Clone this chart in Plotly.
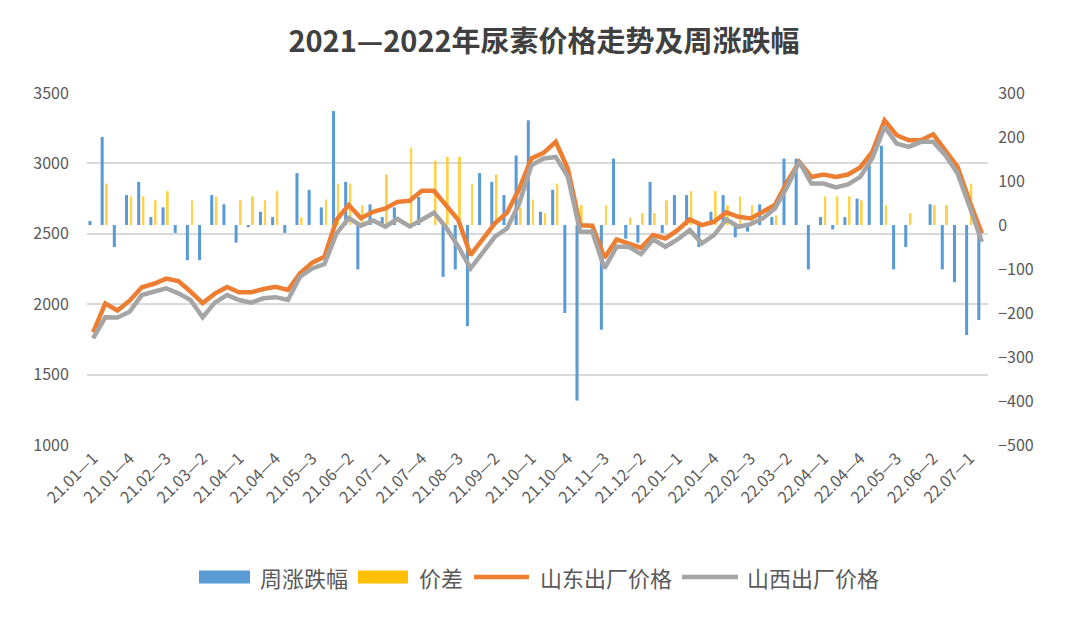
import plotly.graph_objects as go

# weekly categories 21.01-1 ... 22.07-2 (4 weeks per month)
weeks = []
for yy, months in ((21, range(1, 13)), (22, range(1, 8))):
    for m in months:
        for w in range(1, 5):
            weeks.append(f"{yy}.{m:02d}—{w}")
weeks = weeks[:74]
tick_labels = weeks[::3]

shandong = [1800, 2005, 1955, 2025, 2120, 2145, 2182, 2165, 2090, 2008,
            2075, 2122, 2085, 2085, 2108, 2124, 2101, 2220, 2295, 2337,
            2600, 2704, 2610, 2656, 2680, 2727, 2735, 2805, 2805, 2697,
            2597, 2349, 2467, 2574, 2650, 2820, 3035, 3075, 3153, 2960,
            2560, 2557, 2330, 2460, 2431, 2400, 2491, 2467, 2526, 2602,
            2562, 2586, 2652, 2621, 2609, 2656, 2704, 2869, 3011, 2904,
            2921, 2904, 2921, 2971, 3082, 3306, 3200, 3164, 3164, 3207,
            3093, 2975, 2727, 2503]

shanxi = [1758, 1907, 1905, 1947, 2065, 2089, 2113, 2077, 2030, 1907,
          2011, 2065, 2030, 2011, 2042, 2050, 2030, 2195, 2254, 2285,
          2503, 2612, 2558, 2595, 2550, 2605, 2552, 2600, 2650, 2545,
          2408, 2254, 2361, 2479, 2538, 2715, 2987, 3035, 3046, 2904,
          2515, 2515, 2255, 2408, 2408, 2356, 2460, 2408, 2460, 2526,
          2432, 2491, 2602, 2550, 2569, 2609, 2680, 2833, 3011, 2857,
          2857, 2829, 2850, 2904, 3036, 3259, 3141, 3117, 3153, 3153,
          3058, 2928, 2691, 2443]

weekly_change = [9, 200, -50, 68, 98, 18, 40, -18, -80, -80,
                 68, 47, -40, -5, 30, 18, -18, 118, 80, 40,
                 259, 98, -101, 47, 18, 40, 0, 64, 0, -118,
                 -101, -230, 118, 98, 68, 158, 238, 30, 80, -200,
                 -399, 0, -238, 151, -31, -40, 98, -18, 68, 68,
                 -50, 30, 68, -28, -15, 47, 18, 151, 151, -101,
                 18, -10, 18, 60, 138, 180, -101, -50, 0, 47,
                 -101, -130, -250, -216]

price_gap = [0, 94, 0, 65, 65, 56, 77, 0, 56, 0,
             65, 0, 56, 65, 56, 77, 0, 17, 0, 58,
             94, 94, 45, 0, 115, 0, 176, 0, 146, 155,
             155, 94, 0, 115, 0, 40, 58, 27, 94, 0,
             45, 0, 45, 0, 17, 27, 27, 56, 0, 77,
             0, 77, 45, 65, 45, 0, 22, 0, 0, 0,
             65, 65, 65, 56, 0, 45, 0, 27, 0, 45,
             45, 0, 94, 0]

series_names = ["周涨跌幅", "价差", "山东出厂价格", "山西出厂价格"]
series_colors = ["#5B9BD5", "#FFC000", "#ED7D31", "#A5A5A5"]

FONT = "Noto Sans CJK SC"
TXT = "#595959"
W, H = 1072, 611  # page adds an 8px body margin
ML, MR, MT, MB = 79, 92, 85, 174
PW, PH = W - ML - MR, H - MT - MB

fig = go.Figure()
fig.add_trace(go.Bar(x=weeks, y=weekly_change, name=series_names[0],
                     marker=dict(color=series_colors[0], line=dict(width=0)),
                     width=0.25, offset=-0.38, yaxis="y"))
fig.add_trace(go.Bar(x=weeks, y=price_gap, name=series_names[1],
                     marker=dict(color=series_colors[1], line=dict(width=0)),
                     opacity=0.7, width=0.16, offset=0.05, yaxis="y"))
fig.add_trace(go.Scatter(x=weeks, y=shandong, name=series_names[2], mode="lines",
                         line=dict(color=series_colors[2], width=4.5), yaxis="y2"))
fig.add_trace(go.Scatter(x=weeks, y=shanxi, name=series_names[3], mode="lines",
                         line=dict(color=series_colors[3], width=4.5), yaxis="y2"))


def px_x(x):  # page pixel -> paper x
    return (x - 8 - ML) / PW


def px_y(y):  # page pixel -> paper y
    return (H - MB - (y - 8)) / PH


# custom legend (wide swatches like the original)
legend_cy = 577
swatch = [(199, 250), (358, 408), (474, 529), (682, 738)]
text_x = [258, 417, 538, 745]
shapes = []
annotations = []
for i, (name, col) in enumerate(zip(series_names, series_colors)):
    x0, x1 = swatch[i]
    if i < 2:
        shapes.append(dict(type="rect", xref="paper", yref="paper",
                           x0=px_x(x0), x1=px_x(x1),
                           y0=px_y(legend_cy + 6.5), y1=px_y(legend_cy - 6.5),
                           fillcolor=col, line=dict(width=0)))
    else:
        shapes.append(dict(type="line", xref="paper", yref="paper",
                           x0=px_x(x0), x1=px_x(x1),
                           y0=px_y(legend_cy), y1=px_y(legend_cy),
                           line=dict(color=col, width=4.5)))
    annotations.append(dict(text=name, xref="paper", yref="paper",
                            x=px_x(text_x[i]), y=px_y(legend_cy),
                            xanchor="left", yanchor="middle", showarrow=False,
                            font=dict(family=FONT, size=22, color=TXT)))

fig.update_layout(
    width=W, height=H,
    margin=dict(l=ML, r=MR, t=MT, b=MB),
    paper_bgcolor="white", plot_bgcolor="white",
    font=dict(family=FONT, color=TXT, size=15),
    title=dict(text="2021—2022年尿素价格走势及周涨跌幅", x=0.5, xanchor="center",
               y=1 - 34 / H, yanchor="middle", yref="container",
               font=dict(family=FONT, size=29, color="#404040", weight="bold")),
    barmode="overlay",
    showlegend=False,
    shapes=shapes,
    annotations=annotations,
    xaxis=dict(type="category", tickmode="array", tickvals=tick_labels, ticktext=tick_labels,
               tickangle=-45, tickfont=dict(size=16, color=TXT), showgrid=False,
               showline=False, zeroline=False, ticks=""),
    yaxis=dict(side="right", range=[-500, 300], dtick=100, showgrid=False, zeroline=False,
               showline=False, tickfont=dict(size=16, color=TXT),
               ticks="outside", ticklen=6, tickcolor="rgba(0,0,0,0)"),
    yaxis2=dict(side="left", overlaying="y", range=[1000, 3500], dtick=500, showgrid=True,
                gridcolor="#D9D9D9", gridwidth=1.5, zeroline=False, showline=False,
                tickfont=dict(size=16, color=TXT),
                ticks="outside", ticklen=14, tickcolor="rgba(0,0,0,0)"),
)

fig.write_html("out.html")
